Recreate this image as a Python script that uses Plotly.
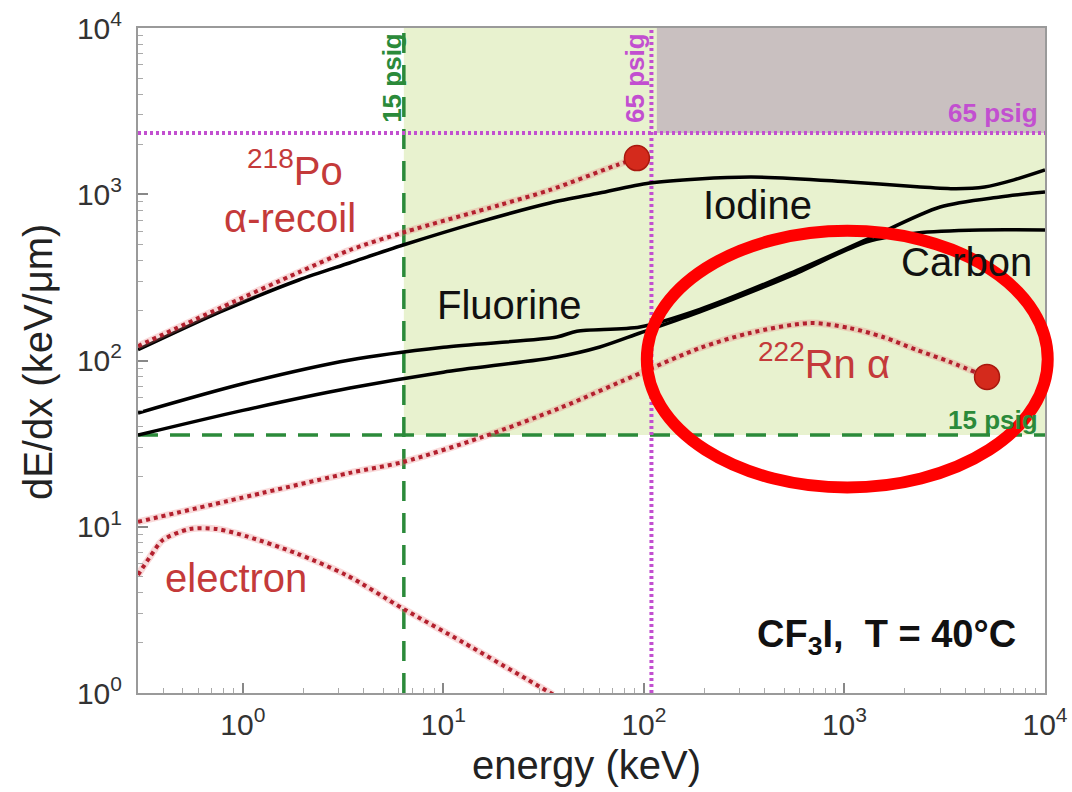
import plotly.graph_objects as go

# ---------------- data (energy in keV, dE/dx in keV/um) ----------------
iodine_E = [0.30, 0.77, 1.9, 3.4, 6.3, 15, 34, 60, 107, 340, 1060, 2300, 3600, 5000, 7000, 10000]
iodine_S = [116, 196, 305, 386, 495, 680, 886, 1017, 1170, 1270, 1185, 1110, 1080, 1105, 1220, 1400]

fluorine_E = [0.30, 1.0, 3.42, 10.0, 36.8, 46.3, 95.5, 190, 535, 1295, 3000, 5965, 10000]
fluorine_S = [48.3, 72.4, 100.7, 120.2, 138.5, 150, 159, 203, 334, 535, 838, 963, 1031]

carbon_E = [0.30, 1.0, 3.42, 10.0, 36.8, 60.3, 95.5, 190, 535, 1295, 2300, 4740, 10000]
carbon_S = [35.6, 50.1, 68.3, 85.1, 105, 120.6, 146.4, 196, 322, 518, 585, 610, 610]

po_recoil_E = [0.30, 0.77, 1.92, 3.42, 6.43, 19.1, 34.0, 73.3, 92.3]
po_recoil_S = [122, 207, 341, 462, 593, 862, 1061, 1499, 1652]

rn_alpha_E = [0.30, 1.26, 3.42, 6.28, 15.7, 38.1, 98.9, 190, 338, 673, 1059, 1556, 2300, 3360, 5140]
rn_alpha_S = [10.7, 16.0, 21.1, 24.5, 34.7, 51.8, 85.3, 118.9, 146.4, 168.1, 156.9, 138.5, 115.7, 98, 79.6]

electron_E = [0.30, 0.344, 0.399, 0.544, 0.742, 1.047, 1.86, 3.30, 6.28, 12.5, 26.1, 35.2]
electron_S = [5.13, 6.58, 8.32, 9.69, 9.69, 8.75, 6.90, 5.10, 3.22, 2.02, 1.21, 0.98]

# pressure thresholds
psig15_E = 6.35      # keV (energy threshold at 15 psig)
psig15_S = 35.6      # keV/um
psig65_E = 109       # keV
psig65_S = 2335      # keV/um
gray_E_start = 116   # keV (start of gray band)

x_min, x_max = 0.3, 10000
y_min, y_max = 1, 10000

tick_vals = [1, 10, 100, 1000, 10000]
x_tick_text = ["10<sup>0</sup>", "10<sup>1</sup>", "10<sup>2</sup>", "10<sup>3</sup>", "10<sup>4</sup>"]
y_tick_text = ["10<sup>0</sup>", "10<sup>1</sup>", "10<sup>2</sup>", "10<sup>3</sup>", "10<sup>4</sup>"]
minor_vals = [m * 10 ** k for k in range(-1, 4) for m in range(2, 10)]

# ---------------- styles ----------------
FONT = "Liberation Sans, Arial, Helvetica, sans-serif"
RED_TXT = "#c43a3a"
RED_DOT = "#b3202e"
RED_HALO = "rgba(235,120,120,0.28)"
GREEN = "#2b8a3a"
MAGENTA = "#c24fd0"

fig = go.Figure()

# shaded regions
fig.add_trace(go.Scatter(
    x=[psig15_E, x_max, x_max, psig15_E], y=[psig15_S, psig15_S, y_max, y_max],
    fill="toself", fillcolor="#e8f2cf", line=dict(width=0), mode="lines",
    hoverinfo="skip", showlegend=False))
fig.add_trace(go.Scatter(
    x=[gray_E_start, x_max, x_max, gray_E_start], y=[psig65_S, psig65_S, y_max, y_max],
    fill="toself", fillcolor="#c9c0c0", line=dict(width=0), mode="lines",
    hoverinfo="skip", showlegend=False))

# threshold lines
fig.add_trace(go.Scatter(x=[psig15_E, psig15_E], y=[y_min, y_max], mode="lines",
                         line=dict(color=GREEN, width=3.5, dash="20px,12px"), showlegend=False))
fig.add_trace(go.Scatter(x=[x_min, x_max], y=[psig15_S, psig15_S], mode="lines",
                         line=dict(color=GREEN, width=3.5, dash="20px,12px"), showlegend=False))
fig.add_trace(go.Scatter(x=[psig65_E, psig65_E], y=[y_min, y_max], mode="lines",
                         line=dict(color=MAGENTA, width=4, dash="3px,3px"), showlegend=False))
fig.add_trace(go.Scatter(x=[x_min, x_max], y=[psig65_S, psig65_S], mode="lines",
                         line=dict(color=MAGENTA, width=4, dash="3px,3px"), showlegend=False))

# black element curves
for E, S in [(iodine_E, iodine_S), (fluorine_E, fluorine_S), (carbon_E, carbon_S)]:
    fig.add_trace(go.Scatter(x=E, y=S, mode="lines",
                             line=dict(color="black", width=3.5, shape="spline", smoothing=0.8),
                             showlegend=False))

# red dotted curves (halo + dots)
for E, S in [(po_recoil_E, po_recoil_S), (rn_alpha_E, rn_alpha_S), (electron_E, electron_S)]:
    fig.add_trace(go.Scatter(x=E, y=S, mode="lines",
                             line=dict(color=RED_HALO, width=7, shape="spline", smoothing=0.8),
                             showlegend=False))
    fig.add_trace(go.Scatter(x=E, y=S, mode="lines",
                             line=dict(color=RED_DOT, width=4, dash="4px,4px", shape="spline", smoothing=0.8),
                             showlegend=False))

# end-point markers
fig.add_trace(go.Scatter(x=[po_recoil_E[-1], rn_alpha_E[-1]], y=[po_recoil_S[-1], rn_alpha_S[-1]],
                         mode="markers",
                         marker=dict(size=25, color="#d42a1c", line=dict(color="#a8180e", width=1.5)),
                         showlegend=False))

axis_common = dict(
    type="log", showgrid=False, zeroline=False, automargin=False,
    showline=True, linecolor="#9a9a9a", linewidth=2, mirror=True,
    ticks="inside", ticklen=10, tickwidth=1.5, tickcolor="#888",
    tickmode="array", tickvals=tick_vals,
    tickfont=dict(family=FONT, size=30, color="#333"),
    minor=dict(ticks="inside", ticklen=5, tickwidth=1, tickcolor="#aaa", tickvals=minor_vals),
)

fig.update_layout(
    width=1072, height=792,
    margin=dict(l=138, r=27, t=28, b=99),
    paper_bgcolor="white", plot_bgcolor="white",
    font=dict(family=FONT),
    xaxis=dict(axis_common, range=[-0.5229, 4], ticktext=x_tick_text, ticklabelstandoff=4),
    yaxis=dict(axis_common, range=[0, 4], ticktext=y_tick_text, ticklabelstandoff=8),
)

ann = []
def label(text, x, y, size, color, xanchor="center", angle=0):
    ann.append(dict(text=text, x=x, y=y, xref="paper", yref="paper", showarrow=False,
                    xanchor=xanchor, yanchor="middle", textangle=angle,
                    font=dict(family=FONT, size=size, color=color)))

label("<sup>218</sup>Po", 0.173, 0.790, 40, RED_TXT)
label("α-recoil", 0.168, 0.714, 40, RED_TXT)
label("Iodine", 0.6825, 0.734, 40, "#111")
label("Carbon", 0.914, 0.648, 40, "#111")
label("Fluorine", 0.410, 0.5835, 40, "#111")
label("<sup>222</sup>Rn α", 0.7563, 0.500, 40, RED_TXT)
label("electron", 0.108, 0.173, 40, RED_TXT)
label("<b>CF<sub>3</sub>I,\u00a0 T = 40°C</b>", 0.970, 0.084, 38, "#111", xanchor="right")
label("<b>15 psig</b>", 0.280, 0.925, 26, GREEN, angle=-90)
label("<b>65 psig</b>", 0.548, 0.925, 26, MAGENTA, angle=-90)
label("<b>65 psig</b>", 0.9945, 0.872, 26, MAGENTA, xanchor="right")
label("<b>15 psig</b>", 0.9945, 0.4105, 26, GREEN, xanchor="right")
label("energy (keV)", 0.495, -0.108, 40, "#222")
label("dE/dx (keV/μm)", -0.110, 0.498, 40, "#222", angle=-90)
fig.update_layout(annotations=ann)

# red highlight ellipse
fig.add_shape(type="circle", xref="paper", yref="paper",
              x0=0.561, x1=1.003, y0=0.309, y1=0.695,
              line=dict(color="#ff0000", width=12), layer="above")

fig.write_html("out.html")
